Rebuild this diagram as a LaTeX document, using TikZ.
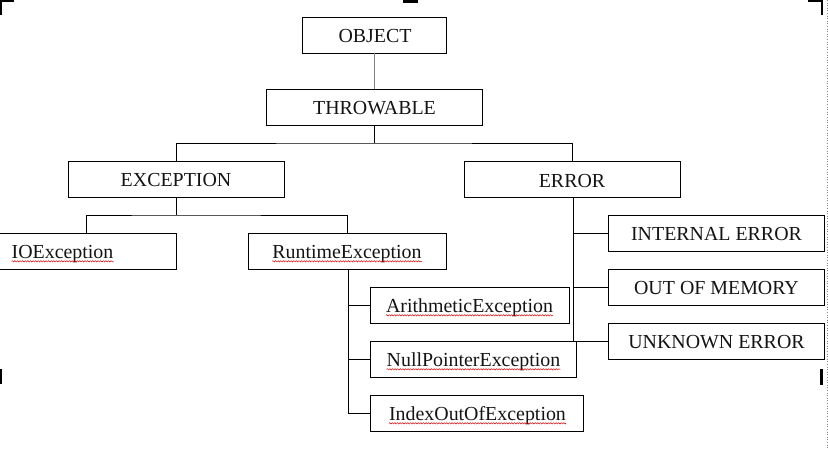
\documentclass[tikz,border=0pt]{standalone}
\usepackage{fontspec}
\setmainfont{Liberation Serif}
\usetikzlibrary{decorations.pathmorphing}
\tikzset{
  box/.style={draw, line width=0.9pt, minimum height=36pt, inner sep=0pt},
  lbl/.style={inner sep=0pt, anchor=base, font=\fontsize{19.9}{23}\selectfont, text=black!92},
  conn/.style={line width=0.9pt},
  wavy/.style={draw=red!85!black, line width=0.45pt, decorate, decoration={snake, amplitude=0.7pt, segment length=2.6pt}},
  cropmark/.style={line width=2.6pt, black},
}
\begin{document}
\begin{tikzpicture}[x=1pt, y=-1pt]
\useasboundingbox (0,0) rectangle (828,448);

% boxes
\node[box, minimum width=144pt] (obj) at (374,35) {};
\node[box, minimum width=216pt] (thr) at (374,107) {};
\node[box, minimum width=216pt] (exc) at (176,179) {};
\node[box, minimum width=216pt] (err) at (572,179.5) {};
\node[box, minimum width=216pt] (io) at (68,251) {};
\node[box, minimum width=198pt] (rt) at (347,251) {};
\node[box, minimum width=199pt] (ari) at (469.5,305) {};
\node[box, minimum width=206pt] (nul) at (473,359) {};
\node[box, minimum width=213pt] (idx) at (476.5,413) {};
\node[box, minimum width=216pt] (int) at (716,233) {};
\node[box, minimum width=216pt] (oom) at (716,287) {};
\node[box, minimum width=216pt] (unk) at (716,341) {};

% labels
\node[lbl] (tobj) at (375,42.5) {OBJECT};
\node[lbl] (tthr) at (374.5,114.5) {THROWABLE};
\node[lbl] (texc) at (176,186.5) {EXCEPTION};
\node[lbl] (terr) at (572,187) {ERROR};
\node[lbl] (tio) at (62.5,258.5) {IOException};
\node[lbl] (trt) at (347,258.5) {RuntimeException};
\node[lbl] (tari) at (469.5,312.5) {ArithmeticException};
\node[lbl] (tnul) at (473.5,366.5) {NullPointerException};
\node[lbl] (tidx) at (477.5,420.5) {IndexOutOfException};
\node[lbl] (tint) at (716.5,240.5) {INTERNAL ERROR};
\node[lbl] (toom) at (716.5,294.5) {OUT OF MEMORY};
\node[lbl] (tunk) at (716.5,348.5) {UNKNOWN ERROR};

% spell-check underlines
\foreach \t in {tio,trt,tari,tnul,tidx}{
  \draw[wavy] ([yshift=-2.8pt]\t.base west) -- ([yshift=-2.8pt]\t.base east);
}

% junction coordinates
\coordinate (j1) at (374,143);
\coordinate (j2) at (176,215);
\coordinate (iotop) at (86,233);
\coordinate (rtbot) at (348,269);
\coordinate (errbot) at (573,197);

% connectors
\draw[conn, gray] (obj.south) -- (thr.north);
\draw[conn] (thr.south) -- (j1);
\draw[conn] (exc.north) |- (j1) -| (err.north);
\draw[conn] (exc.south) -- (j2);
\draw[conn] (iotop) |- (j2) -| (rt.north);
\draw[conn] (rtbot) |- (idx.west);
\draw[conn] (rtbot |- ari.west) -- (ari.west);
\draw[conn] (rtbot |- nul.west) -- (nul.west);
\draw[conn] (errbot) |- (unk.west);
\draw[conn] (errbot |- int.west) -- (int.west);
\draw[conn] (errbot |- oom.west) -- (oom.west);

% page crop marks
\draw[line width=2pt] (0,1) -- (14,1);
\draw[line width=1.6pt] (0.8,0) -- (0.8,15);
\draw[cropmark] (403,1.2) -- (418,1.2);
\draw[line width=2pt] (808,1) -- (823,1);
\draw[line width=2.4pt] (822,0) -- (822,15);
\draw[line width=2.4pt] (1.2,369) -- (1.2,384);
\draw[line width=2.4pt] (821.5,369) -- (821.5,385);
\draw[gray, line width=0.6pt, dotted] (826.8,0) -- (826.8,448);
\end{tikzpicture}
\end{document}
